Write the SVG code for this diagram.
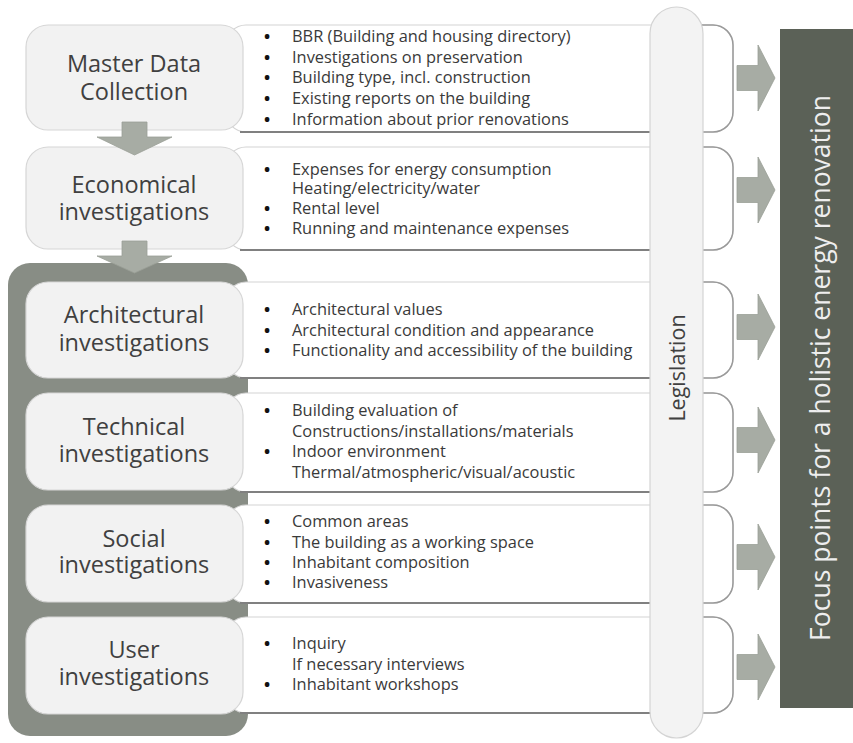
<svg xmlns="http://www.w3.org/2000/svg" width="853" height="743" viewBox="0 0 853 743">
<defs>
<style>
.bg{fill:#ffffff}
.container{fill:#888d85}
.lbox{fill:#f2f2f2;stroke:#d6d6d6;stroke-width:1.2}
.dbox{fill:#ffffff;stroke:#d4d4d4;stroke-width:1.2}
.dshadow{fill:none;stroke:#808080;stroke-width:2}
.dend{fill:none;stroke:#9a9a9a;stroke-width:1.5}
.pill{fill:#f3f3f3;stroke:#d4d4d4;stroke-width:1.2}
.arrow{fill:#a7aca4;stroke:#9ba097;stroke-width:0.8}
.focus{fill:#5b6157}
.title{font-family:"Open Sans","Liberation Sans",sans-serif;font-size:23.5px;fill:#404040;text-anchor:middle}
.item{font-family:"Open Sans","Liberation Sans",sans-serif;font-size:16.4px;fill:#3a3a3a}
.b{font-weight:bold;fill:#111111}
.leg{font-family:"Open Sans","Liberation Sans",sans-serif;font-size:21.5px;fill:#404040;text-anchor:middle}
.ftext{font-family:"Open Sans","Liberation Sans",sans-serif;font-size:26.5px;fill:#eeeeee;text-anchor:middle}
</style>
</defs>
<rect class="bg" x="0" y="0" width="853" height="743"/>
<g id="investigation-frame">
<rect class="container" x="8" y="263" width="240" height="473" rx="22"/>
</g>
<g id="details">
<g id="detail-master">
<rect class="dbox" x="226" y="25" width="507" height="107" rx="20"/>
<path class="dshadow" d="M240 132 H660"/>
<path class="dend" d="M700 25 H713 A20 20 0 0 1 733 45 V112 A20 20 0 0 1 713 132 H700"/>
<text class="item"><tspan class="b" x="264" y="42">•</tspan><tspan x="292" y="42">BBR (Building and housing directory)</tspan></text>
<text class="item"><tspan class="b" x="264" y="63">•</tspan><tspan x="292" y="63">Investigations on preservation</tspan></text>
<text class="item"><tspan class="b" x="264" y="83">•</tspan><tspan x="292" y="83">Building type, incl. construction</tspan></text>
<text class="item"><tspan class="b" x="264" y="104">•</tspan><tspan x="292" y="104">Existing reports on the building</tspan></text>
<text class="item"><tspan class="b" x="264" y="125">•</tspan><tspan x="292" y="125">Information about prior renovations</tspan></text>
</g>
<g id="detail-economical">
<rect class="dbox" x="226" y="147" width="507" height="103" rx="20"/>
<path class="dshadow" d="M240 250 H660"/>
<path class="dend" d="M700 147 H713 A20 20 0 0 1 733 167 V230 A20 20 0 0 1 713 250 H700"/>
<text class="item"><tspan class="b" x="264" y="175">•</tspan><tspan x="292" y="175">Expenses for energy consumption</tspan></text>
<text class="item"><tspan x="292" y="194">Heating/electricity/water</tspan></text>
<text class="item"><tspan class="b" x="264" y="214">•</tspan><tspan x="292" y="214">Rental level</tspan></text>
<text class="item"><tspan class="b" x="264" y="234">•</tspan><tspan x="292" y="234">Running and maintenance expenses</tspan></text>
</g>
<g id="detail-architectural">
<rect class="dbox" x="226" y="282" width="507" height="96" rx="20"/>
<path class="dshadow" d="M240 378 H660"/>
<path class="dend" d="M700 282 H713 A20 20 0 0 1 733 302 V358 A20 20 0 0 1 713 378 H700"/>
<text class="item"><tspan class="b" x="264" y="315">•</tspan><tspan x="292" y="315">Architectural values</tspan></text>
<text class="item"><tspan class="b" x="264" y="336">•</tspan><tspan x="292" y="336">Architectural condition and appearance</tspan></text>
<text class="item"><tspan class="b" x="264" y="356">•</tspan><tspan x="292" y="356">Functionality and accessibility of the building</tspan></text>
</g>
<g id="detail-technical">
<rect class="dbox" x="226" y="393" width="507" height="99" rx="20"/>
<path class="dshadow" d="M240 492 H660"/>
<path class="dend" d="M700 393 H713 A20 20 0 0 1 733 413 V472 A20 20 0 0 1 713 492 H700"/>
<text class="item"><tspan class="b" x="264" y="416">•</tspan><tspan x="292" y="416">Building evaluation of</tspan></text>
<text class="item"><tspan x="292" y="437">Constructions/installations/materials</tspan></text>
<text class="item"><tspan class="b" x="264" y="457">•</tspan><tspan x="292" y="457">Indoor environment</tspan></text>
<text class="item"><tspan x="292" y="478">Thermal/atmospheric/visual/acoustic</tspan></text>
</g>
<g id="detail-social">
<rect class="dbox" x="226" y="505" width="507" height="98" rx="20"/>
<path class="dshadow" d="M240 603 H660"/>
<path class="dend" d="M700 505 H713 A20 20 0 0 1 733 525 V583 A20 20 0 0 1 713 603 H700"/>
<text class="item"><tspan class="b" x="264" y="527">•</tspan><tspan x="292" y="527">Common areas</tspan></text>
<text class="item"><tspan class="b" x="264" y="548">•</tspan><tspan x="292" y="548">The building as a working space</tspan></text>
<text class="item"><tspan class="b" x="264" y="568">•</tspan><tspan x="292" y="568">Inhabitant composition</tspan></text>
<text class="item"><tspan class="b" x="264" y="588">•</tspan><tspan x="292" y="588">Invasiveness</tspan></text>
</g>
<g id="detail-user">
<rect class="dbox" x="226" y="617" width="507" height="96" rx="20"/>
<path class="dshadow" d="M240 713 H660"/>
<path class="dend" d="M700 617 H713 A20 20 0 0 1 733 637 V693 A20 20 0 0 1 713 713 H700"/>
<text class="item"><tspan class="b" x="264" y="649">•</tspan><tspan x="292" y="649">Inquiry</tspan></text>
<text class="item"><tspan x="292" y="670">If necessary interviews</tspan></text>
<text class="item"><tspan class="b" x="264" y="690">•</tspan><tspan x="292" y="690">Inhabitant workshops</tspan></text>
</g>
</g>
<g id="master-data">
<rect class="lbox" x="26" y="25" width="217" height="105" rx="22"/>
<text class="title" x="134" y="72">Master Data</text>
<text class="title" x="134" y="100">Collection</text>
</g>
<g id="economical">
<rect class="lbox" x="26" y="147" width="217" height="102" rx="22"/>
<text class="title" x="134" y="193">Economical</text>
<text class="title" x="134" y="220">investigations</text>
</g>
<g id="architectural">
<rect class="lbox" x="26" y="282" width="217" height="96" rx="22"/>
<text class="title" x="134" y="323">Architectural</text>
<text class="title" x="134" y="351">investigations</text>
</g>
<g id="technical">
<rect class="lbox" x="26" y="393" width="217" height="97" rx="22"/>
<text class="title" x="134" y="435">Technical</text>
<text class="title" x="134" y="462">investigations</text>
</g>
<g id="social">
<rect class="lbox" x="26" y="505" width="217" height="97" rx="22"/>
<text class="title" x="134" y="547">Social</text>
<text class="title" x="134" y="573">investigations</text>
</g>
<g id="user">
<rect class="lbox" x="26" y="617" width="217" height="97" rx="22"/>
<text class="title" x="134" y="658">User</text>
<text class="title" x="134" y="685">investigations</text>
</g>
<g id="legislation">
<rect class="pill" x="650" y="7" width="53" height="731" rx="26.5"/>
<text class="leg" transform="translate(685 368) rotate(-90)">Legislation</text>
</g>
<g id="focus-points">
<rect class="focus" x="780" y="29" width="73" height="679"/>
<text class="ftext" transform="translate(830 368) rotate(-90)">Focus points for a holistic energy renovation</text>
</g>
<g id="connectors">
<path class="arrow" d="M122 122 H147 V137 H172 L134.5 155 L97 137 H122 Z"/>
<path class="arrow" d="M122 241 H147 V256 H172 L134.5 273 L97 256 H122 Z"/>
<path class="arrow" d="M737 65.5 H758 V45 L775 78 L758 111 V90.5 H737 Z"/>
<path class="arrow" d="M737 177.5 H758 V157 L775 190 L758 223 V202.5 H737 Z"/>
<path class="arrow" d="M737 314.5 H758 V294 L775 327 L758 360 V339.5 H737 Z"/>
<path class="arrow" d="M737 427.5 H758 V407 L775 440 L758 473 V452.5 H737 Z"/>
<path class="arrow" d="M737 544.5 H758 V524 L775 557 L758 590 V569.5 H737 Z"/>
<path class="arrow" d="M737 654.5 H758 V634 L775 667 L758 700 V679.5 H737 Z"/>
</g>
</svg>
